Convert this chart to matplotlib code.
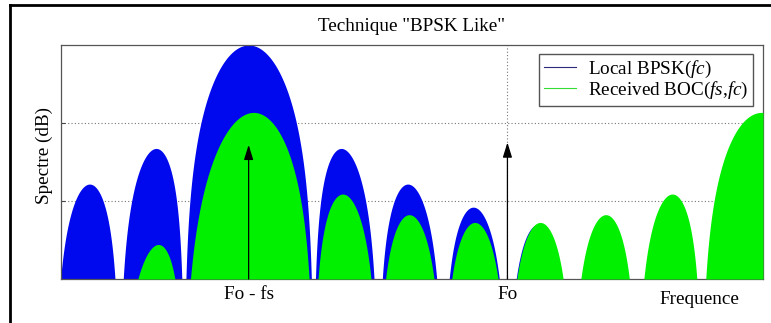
import numpy as np
import matplotlib
matplotlib.use('Agg')
import matplotlib.pyplot as plt
from matplotlib.lines import Line2D

# values (frequency in units of fc, relative to Fo)
fs_over_fc = 4.0          # BOC sub-carrier / chip rate
center_bpsk = -4.0        # local BPSK replica centred on Fo - fs
boc_offset_db = -4.8      # level of the received BOC vs local BPSK
floor_db = -30.0
x_range = [-6.9, 3.95]
tick_pos = [-4.0, 0.0]
tick_labels = ['Fo - fs', 'Fo']
arrow_pos = [-4.0, 0.0]
arrow_tip_db = [-12.8, -12.5]
grid_db = [-20, -10]

plt.rcParams['font.family'] = ['Liberation Serif', 'DejaVu Serif']
plt.rcParams['mathtext.fontset'] = 'custom'
plt.rcParams['mathtext.rm'] = 'Liberation Serif'
plt.rcParams['mathtext.it'] = 'Liberation Serif:italic'
fsz = 13.8

f = np.linspace(x_range[0], x_range[1], 20011) + 1e-5

# spectra in dB
bpsk = 10 * np.log10(np.sinc(f - center_bpsk) ** 2 + 1e-30)
boc = 10 * np.log10((np.sinc(f) * np.tan(np.pi * f / (2 * fs_over_fc))) ** 2 + 1e-30) + boc_offset_db
bpsk = np.maximum(bpsk, floor_db)
boc = np.maximum(boc, floor_db)

fig = plt.figure(figsize=(7.71, 3.23), dpi=100)
ax = fig.add_axes([61 / 771, 1 - 279 / 323, 702 / 771, 234 / 323])

ax.fill_between(f, floor_db, bpsk, color='#0008ee', lw=0, zorder=2)
ax.fill_between(f, floor_db, boc, color='#00f000', lw=0, zorder=3)

for xp, tip in zip(arrow_pos, arrow_tip_db):
    ax.annotate('', xy=(xp, tip), xytext=(xp, floor_db),
                arrowprops=dict(arrowstyle='-|>,head_length=0.9,head_width=0.28',
                                color='k', lw=0.9, shrinkA=0, shrinkB=0), zorder=4)

ax.set_xlim(x_range)
ax.set_ylim(floor_db, 0)
ax.set_xticks(tick_pos)
ax.set_xticklabels(tick_labels, fontsize=fsz)
ax.set_yticks(grid_db)
ax.set_yticklabels([])
ax.tick_params(direction='in', length=3, color='#444444', pad=5)
ax.grid(True, linestyle=(0, (1, 2)), color='#777777', lw=0.8)
ax.set_axisbelow(True)
for s in ax.spines.values():
    s.set_color('#555555')
    s.set_linewidth(0.9)

ax.set_ylabel('Spectre (dB)', fontsize=fsz)
ax.yaxis.set_label_coords(-0.012, 0.526)
ax.set_xlabel('Frequence', fontsize=fsz)
ax.xaxis.set_label_coords(0.909, -0.052)
ax.text(0.5, 1.08, 'Technique "BPSK Like"', transform=ax.transAxes,
        ha='center', va='center', fontsize=fsz)

handles = [Line2D([], [], color='#2a2a7a', lw=0.8),
           Line2D([], [], color='#33dd33', lw=0.8)]
ax.legend(handles, ['Local BPSK($\\it{fc}$)', 'Received BOC($\\it{fs}$,$\\it{fc}$)'],
          loc='upper right', bbox_to_anchor=(0.9858, 0.9615), borderaxespad=0,
          fancybox=False, framealpha=1, edgecolor='#555555', fontsize=fsz,
          handlelength=1.7, handletextpad=0.6, labelspacing=0.0, borderpad=0.25)

# outer frame (only top and left edges visible in the picture)
fig.add_artist(Line2D([9.5 / 771, 9.5 / 771], [0, 1 - 5 / 323], color='k', lw=2,
                      transform=fig.transFigure))
fig.add_artist(Line2D([9.5 / 771, 1], [1 - 5 / 323, 1 - 5 / 323], color='k', lw=2,
                      transform=fig.transFigure))

fig.savefig('out.png', dpi=100)
